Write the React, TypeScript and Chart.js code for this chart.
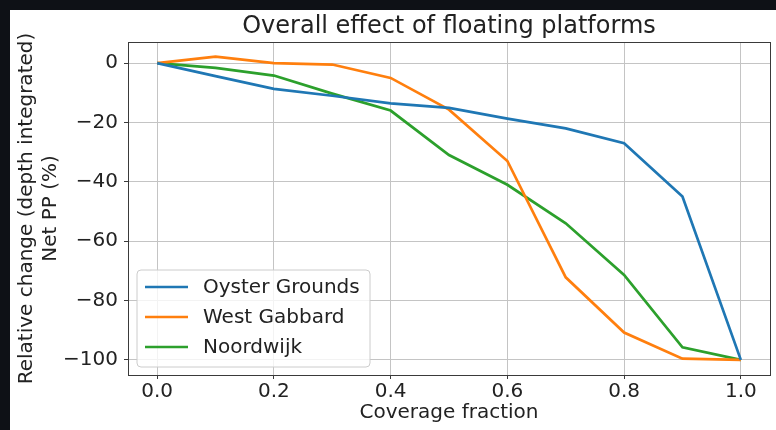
import React, { useEffect, useRef } from 'react';
import { Chart, registerables } from 'chart.js';

Chart.register(...registerables);

const coverage = [0, 0.1, 0.2, 0.3, 0.4, 0.5, 0.6, 0.7, 0.8, 0.9, 1.0];
const oysterGrounds = [0, -4.4, -8.7, -11, -13.6, -15.1, -18.7, -22, -27, -45, -100];
const westGabbard = [0, 2.2, 0, -0.5, -5, -15.7, -33, -72.2, -90.8, -99.6, -100];
const noordwijk = [0, -1.6, -4.2, -10.3, -16, -31, -41, -54, -71.4, -95.8, -100];
const seriesNames = ['Oyster Grounds', 'West Gabbard', 'Noordwijk'];
const seriesColors = ['#1f77b4', '#ff7f0e', '#2ca02c'];
const xTicks = [0, 0.2, 0.4, 0.6, 0.8, 1.0];
const yTicks = [-100, -80, -60, -40, -20, 0];
const titleText = 'Overall effect of floating platforms';
const xTitle = 'Coverage fraction';
const yTitle = ['Relative change (depth integrated)', 'Net PP (%)'];

const FONT = "'DejaVu Sans', sans-serif";

const framePlugin = {
  id: 'frameAndLegend',
  afterDatasetsDraw(chart: any) {
    const { ctx, chartArea } = chart;
    ctx.save();
    ctx.strokeStyle = '#3a3a3a';
    ctx.lineWidth = 1;
    ctx.strokeRect(
      Math.round(chartArea.left) + 0.5,
      Math.round(chartArea.top) + 0.5,
      Math.round(chartArea.right - chartArea.left),
      Math.round(chartArea.bottom - chartArea.top)
    );
    ctx.restore();
  },
  afterDraw(chart: any) {
    const { ctx, chartArea } = chart;
    ctx.save();
    // axes title, centred over the plot area like matplotlib
    ctx.fillStyle = '#222';
    ctx.font = `24px ${FONT}`;
    ctx.textAlign = 'center';
    ctx.textBaseline = 'middle';
    ctx.fillText(titleText, (chartArea.left + chartArea.right) / 2, chartArea.top - 15);

    const bx = chartArea.left + 9;
    const bw = 233;
    const bh = 97;
    const by = chartArea.bottom - 8 - bh;
    ctx.beginPath();
    const r = 4;
    ctx.moveTo(bx + r, by);
    ctx.lineTo(bx + bw - r, by);
    ctx.quadraticCurveTo(bx + bw, by, bx + bw, by + r);
    ctx.lineTo(bx + bw, by + bh - r);
    ctx.quadraticCurveTo(bx + bw, by + bh, bx + bw - r, by + bh);
    ctx.lineTo(bx + r, by + bh);
    ctx.quadraticCurveTo(bx, by + bh, bx, by + bh - r);
    ctx.lineTo(bx, by + r);
    ctx.quadraticCurveTo(bx, by, bx + r, by);
    ctx.closePath();
    ctx.fillStyle = 'rgba(255,255,255,0.8)';
    ctx.fill();
    ctx.strokeStyle = '#cccccc';
    ctx.lineWidth = 1;
    ctx.stroke();
    chart.data.datasets.forEach((ds: any, i: number) => {
      const y = by + 17 + i * 30;
      ctx.beginPath();
      ctx.moveTo(bx + 8, y);
      ctx.lineTo(bx + 51, y);
      ctx.strokeStyle = ds.borderColor;
      ctx.lineWidth = 2.7;
      ctx.stroke();
      ctx.fillStyle = '#222';
      ctx.font = `20px ${FONT}`;
      ctx.textBaseline = 'middle';
      ctx.textAlign = 'left';
      ctx.fillText(ds.label, bx + 66, y + 1);
    });
    ctx.restore();
  },
};

export default function App() {
  const ref = useRef<HTMLCanvasElement | null>(null);

  useEffect(() => {
    const series = [oysterGrounds, westGabbard, noordwijk];
    const chart = new Chart(ref.current as HTMLCanvasElement, {
      type: 'line',
      data: {
        datasets: series.map((vals, i) => ({
          label: seriesNames[i],
          data: coverage.map((c, j) => ({ x: c, y: vals[j] })),
          borderColor: seriesColors[i],
          backgroundColor: seriesColors[i],
          borderWidth: 2.7,
          pointRadius: 0,
          tension: 0,
          fill: false,
        })),
      },
      options: {
        responsive: false,
        animation: false,
        devicePixelRatio: 1,
        layout: { padding: { left: 0, right: 6, top: 32, bottom: 0 } },
        plugins: {
          legend: { display: false },
          tooltip: { enabled: false },
          title: { display: false },
        },
        scales: {
          x: {
            type: 'linear',
            min: -0.05,
            max: 1.05,
            afterFit(scale: any) {
              scale.height = 55;
            },
            afterBuildTicks(scale: any) {
              scale.ticks = xTicks.map((v) => ({ value: v }));
            },
            ticks: {
              color: '#222',
              font: { family: FONT, size: 20, lineHeight: 1.2 },
              padding: 1,
              maxRotation: 0,
              callback: (v: any) => Number(v).toFixed(1),
            },
            grid: { color: '#c4c4c4', lineWidth: 1, tickLength: 4, tickColor: '#3a3a3a', drawTicks: true },
            border: { display: false },
            title: {
              display: true,
              text: xTitle,
              color: '#222',
              font: { family: FONT, size: 20, lineHeight: 1.2 },
              padding: { top: 0, bottom: 5 },
            },
          },
          y: {
            type: 'linear',
            min: -105.1,
            max: 7.1,
            afterFit(scale: any) {
              scale.width = 118;
            },
            afterBuildTicks(scale: any) {
              scale.ticks = yTicks.map((v) => ({ value: v }));
            },
            ticks: {
              color: '#222',
              font: { family: FONT, size: 20 },
              padding: 6,
              callback: (v: any) => (Number(v) < 0 ? '\u2212' + Math.abs(Number(v)) : String(v)),
            },
            grid: { color: '#c4c4c4', lineWidth: 1, tickLength: 4, tickColor: '#3a3a3a', drawTicks: true },
            border: { display: false },
            title: {
              display: true,
              text: yTitle,
              color: '#222',
              font: { family: FONT, size: 20, lineHeight: 1.2 },
              padding: { top: 5, bottom: 0 },
            },
          },
        },
      },
      plugins: [framePlugin],
    } as any);
    return () => chart.destroy();
  }, []);

  return (
    <div
      style={{
        position: 'fixed',
        left: 0,
        top: 0,
        width: 776,
        height: 430,
        background: '#0e1116',
      }}
    >
      <div
        style={{
          position: 'absolute',
          left: 10,
          top: 10,
          width: 766,
          height: 420,
          background: '#ffffff',
        }}
      >
        <canvas ref={ref} width={766} height={420} style={{ display: 'block', width: 766, height: 420 }} />
      </div>
    </div>
  );
}
